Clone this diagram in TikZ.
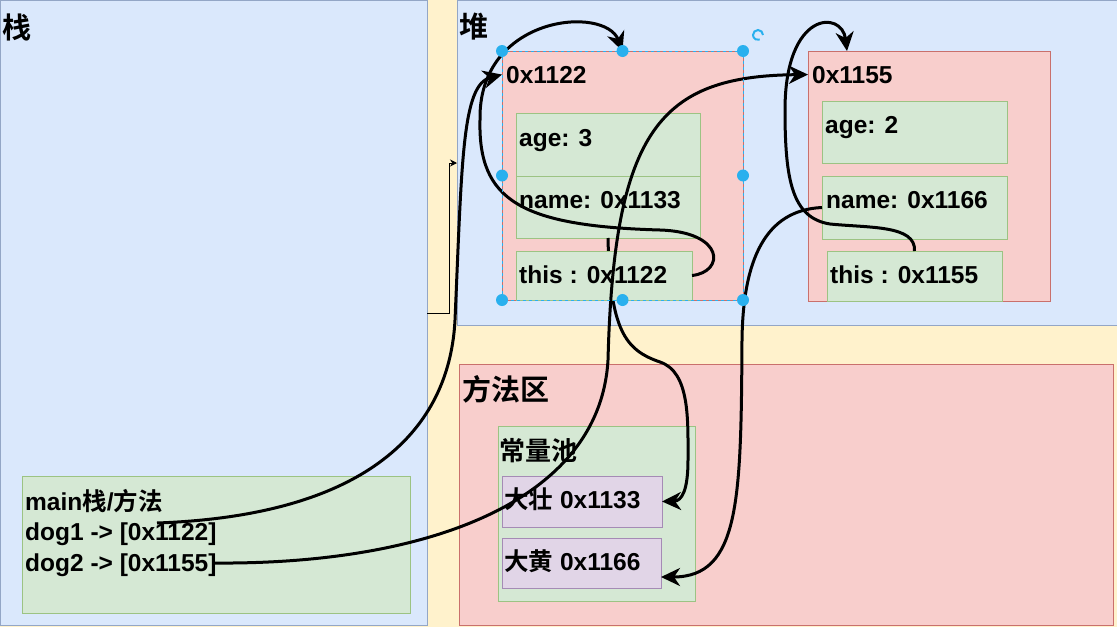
\documentclass[tikz,border=0pt]{standalone}
\usepackage{fontspec}
\setmainfont{Liberation Sans}
\newfontfamily\cjk{Noto Sans CJK SC}[BoldFont={Noto Sans CJK SC Bold}]
\newcommand{\zh}[1]{{\cjk\bfseries #1}}
\usetikzlibrary{arrows.meta, positioning, calc}

\definecolor{bgyellow}{HTML}{FFF2CC}
\definecolor{memblue}{HTML}{DAE8FC}
\definecolor{memblueline}{HTML}{93A6C6}
\definecolor{objred}{HTML}{F8CECC}
\definecolor{objredline}{HTML}{C9706C}
\definecolor{fieldgreen}{HTML}{D5E8D4}
\definecolor{fieldline}{HTML}{9CC383}
\definecolor{strpurple}{HTML}{E1D5E7}
\definecolor{strline}{HTML}{A58BB5}
\definecolor{selblue}{HTML}{29B0EE}

\begin{document}
\begin{tikzpicture}[
    x=1pt, y=-1pt,
    region/.style ={rectangle, draw=memblueline, fill=memblue, line width=1pt, inner sep=0pt, outer sep=0pt, anchor=north west},
    redbox/.style ={rectangle, draw=objredline, fill=objred, line width=1pt, inner sep=0pt, outer sep=0pt, anchor=north west},
    field/.style  ={rectangle, draw=fieldline, fill=fieldgreen, line width=1pt, inner sep=0pt, outer sep=0pt, anchor=north west},
    strbox/.style ={rectangle, draw=strline, fill=strpurple, line width=1pt, inner sep=0pt, outer sep=0pt, anchor=north west},
    txt/.style    ={anchor=base west, inner sep=0pt, font=\fontsize{24.5}{28}\selectfont\bfseries},
    bigtxt/.style ={anchor=base west, inner sep=0pt, font=\fontsize{29}{34}\selectfont},
    ptr/.style    ={line width=3pt, -{Stealth[length=19pt, width=18pt, inset=6pt]}},
    link/.style   ={line width=1pt, -{Stealth[length=7pt, width=7pt]}},
    ]
    \useasboundingbox (0,0) rectangle (1117,627);
    \fill[bgyellow] (0,0) rectangle (1117,627);

    % --- Memory areas ---
    \node[region, minimum width=427, minimum height=625] (stack) at (0,0) {};
    \node[region, minimum width=660, minimum height=325] (heap) at (457,0) {};
    \node[redbox, minimum width=654, minimum height=261] (method) at (459,364) {};
    \node[field, minimum width=197, minimum height=175] (pool) at (498,426) {};
    \node[strbox, minimum width=160, minimum height=51] (dz) at (502,476) {};
    \node[strbox, minimum width=159, minimum height=50] (dh) at (502,538) {};
    \node[field, minimum width=388, minimum height=137] (mainf) at (22,476) {};

    % --- Heap objects ---
    \node[redbox, minimum width=241, minimum height=249] (obj1) at (502,51) {};
    \node[field, minimum width=184, minimum height=63] (obj1_age) at (516,113) {};
    \node[field, minimum width=184, minimum height=62] (obj1_name) at (516,176) {};
    % name goes under the this box
    \draw[ptr] (obj1_name.south) .. controls (610,330) and (625,350) .. (660,362)
        .. controls (690,372) and (688,420) .. (688,460)
        .. controls (688,490) and (682,501) .. (dz.east);
    \node[field, minimum width=176, minimum height=49] (obj1_this) at (516,251) {};

    \node[redbox, minimum width=242, minimum height=250] (obj2) at (808,51) {};
    \node[field, minimum width=185, minimum height=62] (obj2_age) at (822,101) {};
    \node[field, minimum width=185, minimum height=63] (obj2_name) at (822,176) {};
    \node[field, minimum width=175, minimum height=50] (obj2_this) at (827,251) {};

    % --- Labels ---
    \node[bigtxt] (stack_lbl) at (2,38) {\zh{栈}};
    \node[bigtxt] (heap_lbl) at (459,37) {\zh{堆}};
    \node[bigtxt] (method_lbl) at (462,400) {\zh{方法区}};
    \node[txt, font=\fontsize{26}{30}\selectfont] (pool_lbl) at (499,460) {\zh{常量池}};
    \node[txt] (dz_lbl) at (504,508) {\zh{大壮} 0x1133};
    \node[txt] (dh_lbl) at (504,570) {\zh{大黄} 0x1166};

    \node[txt] (main_lbl) at (25,510) {main\zh{栈}/\zh{方法}};
    \node[txt] (dog1_lbl) at (25,540) {dog1 -> [0x1122]};
    \node[txt] (dog2_lbl) at (25,571) {dog2 -> [0x1155]};

    \node[txt] (obj1_addr) at (506,83) {0x1122};
    \node[txt] (obj1_age_t) at (519,146) {age: 3};
    \node[txt] (obj1_name_t) at (519,208) {name: 0x1133};
    \node[txt] (obj1_this_t) at (519,283) {this : 0x1122};

    \node[txt] (obj2_addr) at (812,83) {0x1155};
    \node[txt] (obj2_age_t) at (825,133) {age: 2};
    \node[txt] (obj2_name_t) at (826,208) {name: 0x1166};
    \node[txt] (obj2_this_t) at (830,283) {this : 0x1155};

    % --- Pointers ---
    \coordinate (dog1_ptr) at (157,523);
    \coordinate (dog2_ptr) at (213,563);
    \coordinate (obj2_in) at ($(obj2.north west)+(39,0)$);

    \draw[ptr] (dog1_ptr) .. controls (380,515) and (450,420) .. (455,320)
        .. controls (462,160) and (462,85) .. (obj1.west |- obj1_addr.west);
    \draw[ptr] (dog2_ptr) .. controls (430,565) and (600,500) .. (608,360)
        .. controls (614,130) and (660,76) .. (obj2.west |- obj2_addr.west);
    \draw[ptr] (obj1_this.east) .. controls (725,272) and (725,232) .. (660,230)
        .. controls (520,226) and (478,200) .. (480,120)
        .. controls (478,15) and (605,5) .. (obj1.north);
    \draw[ptr] (obj2_this.north) .. controls (916,225) and (870,228) .. (830,224)
        .. controls (792,218) and (785,180) .. (785,110)
        .. controls (785,10) and (842,10) .. (obj2_in);
    \draw[ptr] (obj2_name.west) .. controls (765,210) and (743,260) .. (742,340)
        .. controls (741,500) and (740,577) .. ([yshift=-14pt]dh.east);

    \draw[link] (stack.east |- 0,313) -- (449,313) |- (heap.west |- 0,163);

    % --- Selection handles ---
    \draw[selblue, dashed, line width=0.8pt] (obj1.north west) rectangle (obj1.south east);
    \foreach \a in {north west, north, north east, west, east, south west, south, south east}
        \fill[selblue] (obj1.\a) circle (6pt);
    \draw[selblue, line width=2pt] (763,35) arc[start angle=0, end angle=290, radius=5pt];

\end{tikzpicture}
\end{document}
